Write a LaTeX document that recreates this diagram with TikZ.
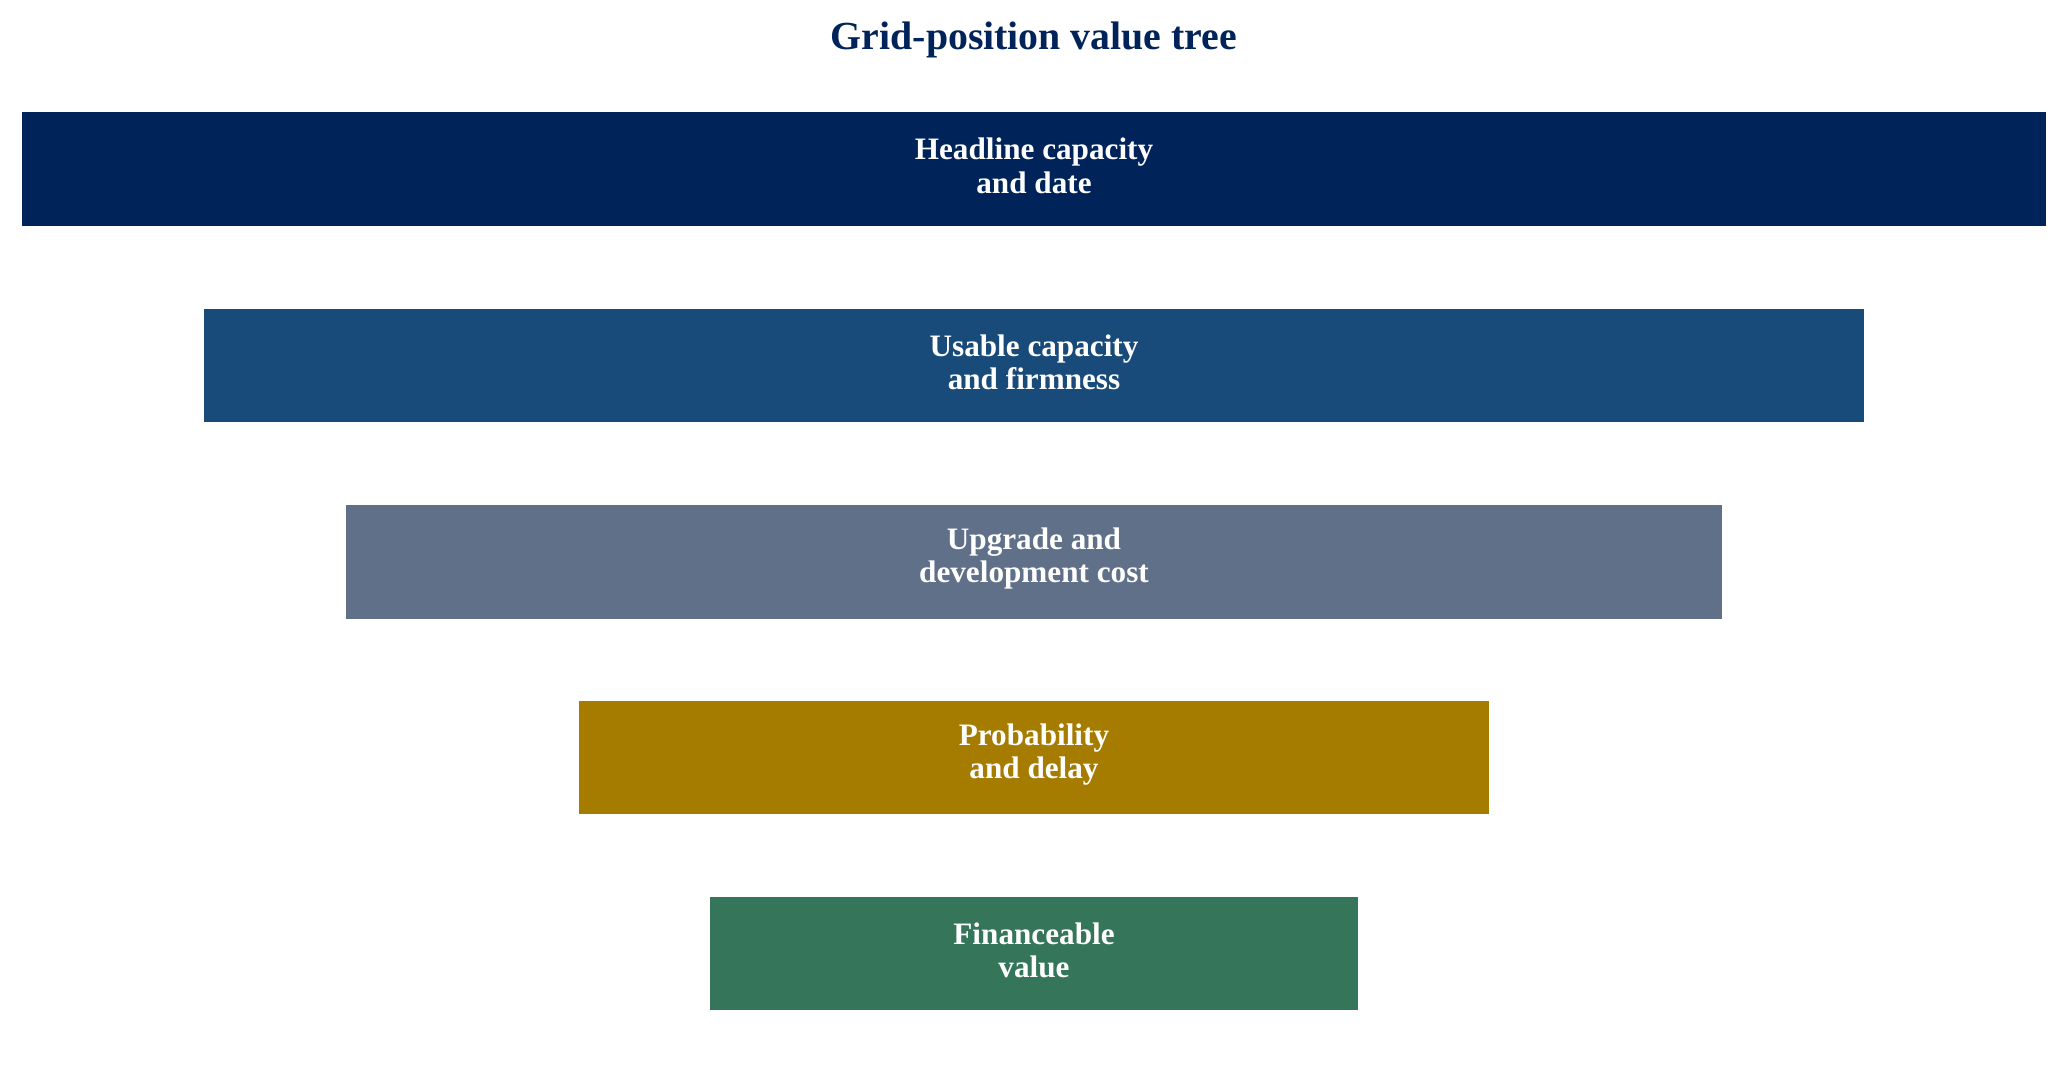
\documentclass[tikz,border=0pt]{standalone}
\usepackage{fontspec}
\setmainfont{Liberation Serif}
\definecolor{cnavy}{HTML}{00235A}
\definecolor{cblue}{HTML}{184A7A}
\definecolor{cslate}{HTML}{607088}
\definecolor{cgold}{HTML}{A67C00}
\definecolor{cgreen}{HTML}{35755A}
\tikzset{
  bar/.style={rectangle, inner sep=0pt, minimum height=113.5pt, text=white, align=center,
    font=\fontsize{31.2}{33.3}\selectfont\bfseries},
  bartext/.style={text=white, align=center, inner sep=0pt,
    font=\fontsize{31.2}{33.3}\selectfont\bfseries},
  titlestyle/.style={anchor=base, text=cnavy, inner sep=0pt, font=\fontsize{39.8}{46}\selectfont\bfseries}
}
\begin{document}
\begin{tikzpicture}[x=1pt,y=-1pt]
\useasboundingbox (0,0) rectangle (2068,1078);
\node[titlestyle] (title) at (1034,49.3) {Grid-position value tree};
\node[bar, fill=cnavy, minimum width=2023.2pt] (b1) at (1034,168.8) {};
\node[bar, fill=cblue, minimum width=1659.2pt] (b2) at (1034,365.3) {};
\node[bar, fill=cslate, minimum width=1376.9pt] (b3) at (1034,561.8) {};
\node[bar, fill=cgold, minimum width=910pt] (b4) at (1034,757.7) {};
\node[bar, fill=cgreen, minimum width=648.9pt] (b5) at (1034,953.5) {};
\node[bartext, yshift=3pt] (t1) at (b1) {Headline capacity\\and date};
\node[bartext, yshift=3pt] (t2) at (b2) {Usable capacity\\and firmness};
\node[bartext, yshift=3pt] (t3) at (b3) {Upgrade and\\development cost};
\node[bartext, yshift=3pt] (t4) at (b4) {Probability\\and delay};
\node[bartext, yshift=3pt] (t5) at (b5) {Financeable\\value};
\end{tikzpicture}
\end{document}
